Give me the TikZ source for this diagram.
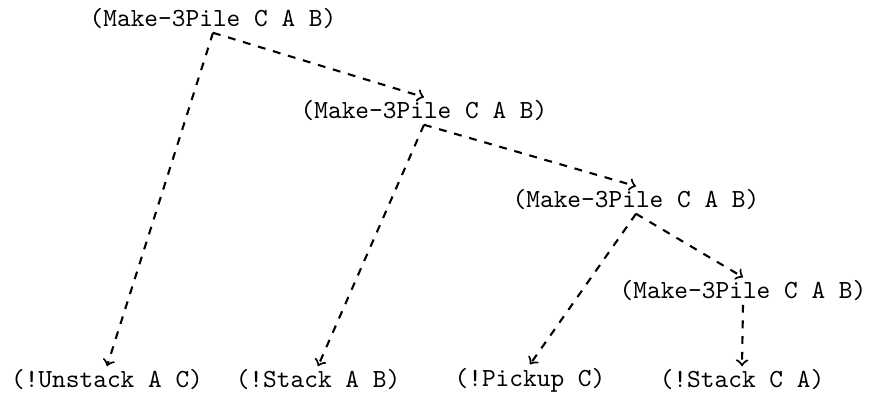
\documentclass[tikz,border=0pt]{standalone}
\usetikzlibrary{arrows}

\begin{document}
\begin{tikzpicture}[
    x=0.383pt,
    y=-0.383pt,
    ->,
    thick,
    call node/.style={font=\ttfamily,inner sep=1pt},
    plan edge/.style={dashed}]

  \useasboundingbox (0,0) rectangle (870,398);

  \node[call node] (Pile1) at (213,19) {(Make-3Pile C A B)};
  \node[call node] (Pile2) at (424,111) {(Make-3Pile C A B)};
  \node[call node] (Pile3) at (636,200) {(Make-3Pile C A B)};
  \node[call node] (Pile4) at (743,291) {(Make-3Pile C A B)};

  \node[call node] (UnstackAC) at (107,380) {(!Unstack A C)};
  \node[call node] (StackAB) at (318,380) {(!Stack A B)};
  \node[call node] (PickupC) at (530,380) {(!Pickup C)};
  \node[call node] (StackCA) at (742,380) {(!Stack C A)};

  \path[plan edge]
    (Pile1.south)
         edge (UnstackAC.north)
         edge (Pile2.north)
    (Pile2.south)
         edge (StackAB.north)
         edge (Pile3.north)
    (Pile3.south)
         edge (PickupC.north)
         edge (Pile4.north)
    (Pile4.south)
         edge (StackCA.north);
\end{tikzpicture}
\end{document}
